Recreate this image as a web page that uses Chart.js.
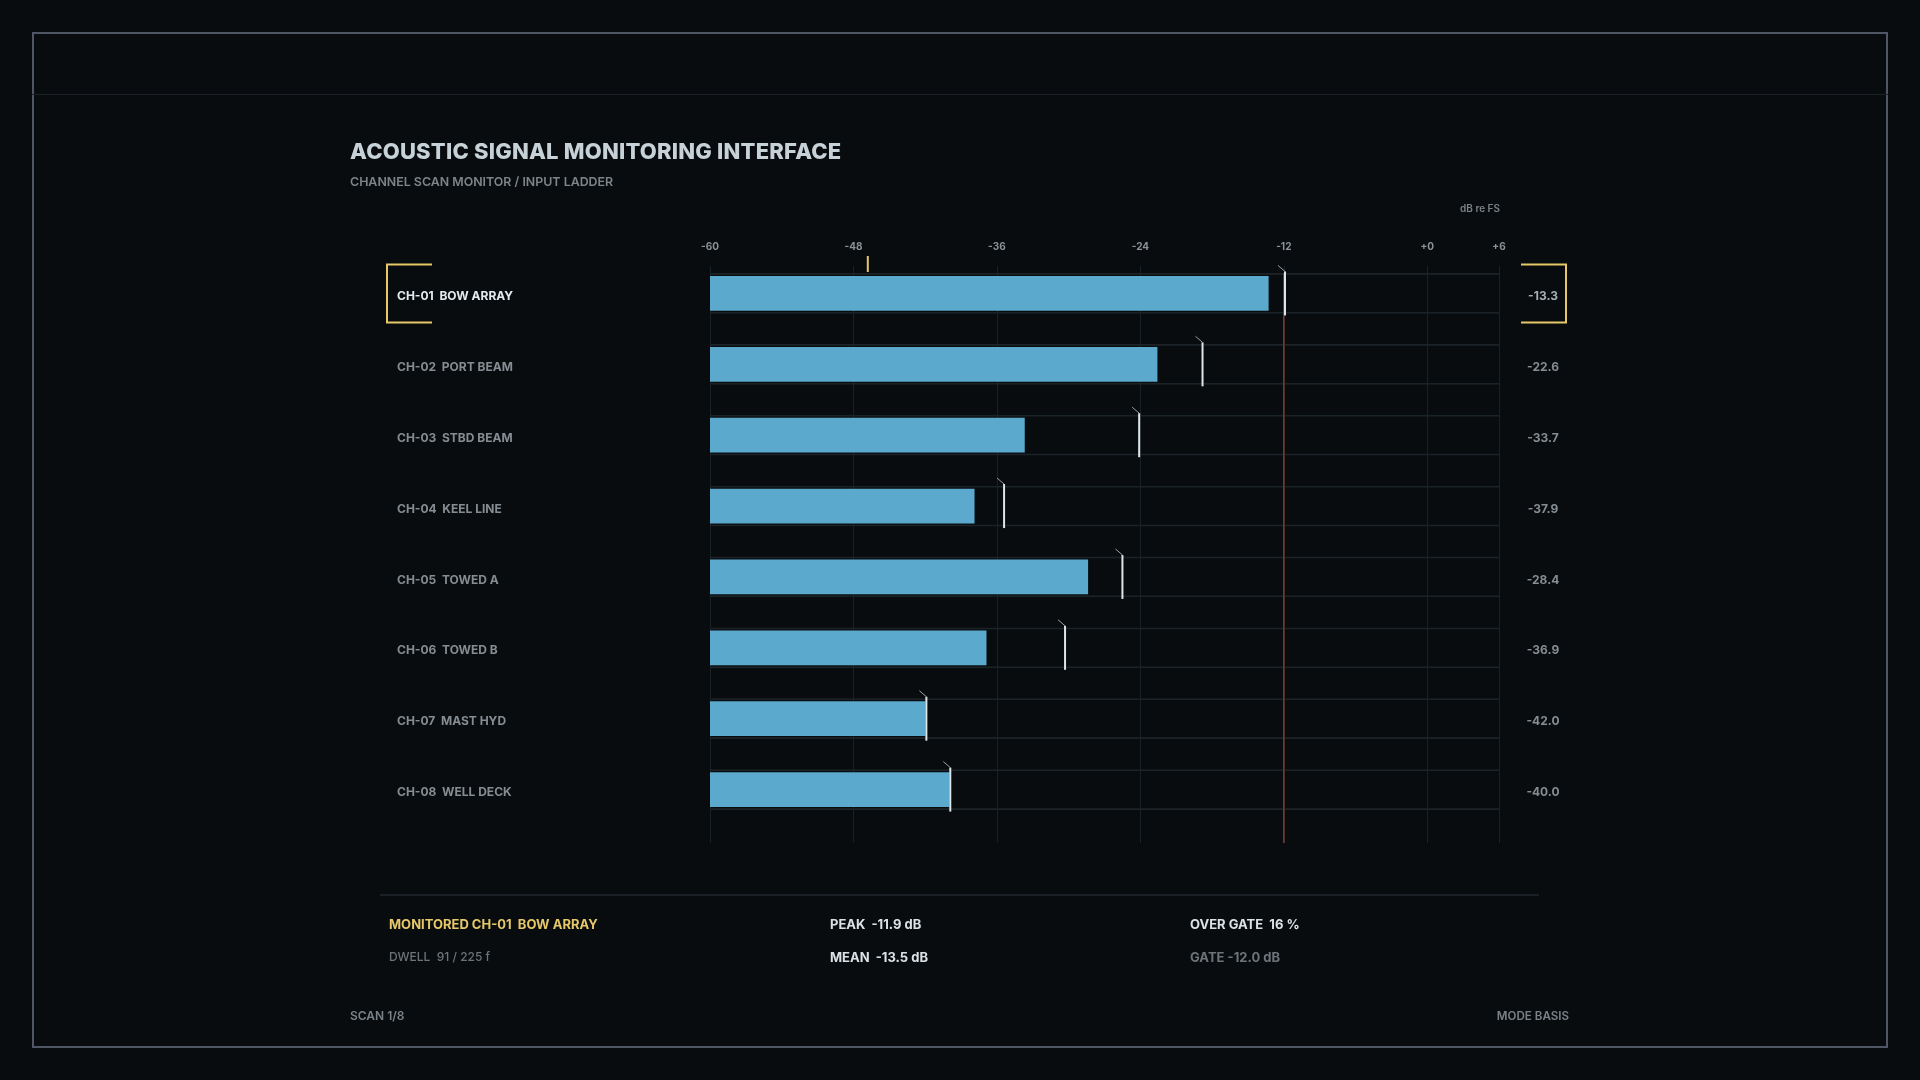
<!DOCTYPE html>
<html>
<head>
<meta charset="utf-8">
<title>Acoustic Signal Monitoring Interface</title>
<script src="https://cdn.jsdelivr.net/npm/chart.js@4"></script>
<style>
  html, body { margin: 0; padding: 0; background: #080c0f; }
  body { width: 1920px; height: 1080px; position: relative; overflow: hidden; font-family: Inter, Roboto, "DejaVu Sans", sans-serif; }
  #frame { position: absolute; left: 32px; top: 32px; width: 1852px; height: 1012px; border: 2px solid #4f5664; }
  #headline { position: absolute; left: 32px; top: 94px; width: 1856px; height: 1px; background: #1b2126; }
  canvas { position: absolute; left: 0; top: 0; }
  .t { position: absolute; white-space: pre; line-height: 20px; height: 20px; }
  #title { left: 350px; top: 141px; font-size: 22px; font-weight: 800; color: #c7d2d8; letter-spacing: 0.2px; }
  #sub { left: 350px; top: 172px; font-size: 12.4px; font-weight: 600; color: #7d858b; }
  #sep { position: absolute; left: 380px; top: 894px; width: 1159px; height: 2px; background: #1a2025; }
  .s { font-size: 13px; font-weight: 700; }
  .y { color: #e6c868; }
  .w { color: #dbe2e6; }
  .g { color: #6d7479; }
  .f { font-size: 12px; font-weight: 600; color: #7b8288; }
</style>
</head>
<body>
<div id="frame"></div>
<div id="headline"></div>
<canvas id="meter" width="1920" height="1080"></canvas>
<div class="t" id="title">ACOUSTIC SIGNAL MONITORING INTERFACE</div>
<div class="t" id="sub">CHANNEL SCAN MONITOR / INPUT LADDER</div>
<div id="sep"></div>
<div class="t s y" id="mon" style="left:389px;top:914px"></div>
<div class="t s g" id="dwell" style="left:389px;top:947px;font-weight:500;font-size:12px"></div>
<div class="t s w" id="peak" style="left:830px;top:914px"></div>
<div class="t s w" id="mean" style="left:830px;top:947px"></div>
<div class="t s w" id="over" style="left:1190px;top:914px"></div>
<div class="t s g" id="gate" style="left:1190px;top:947px"></div>
<div class="t f" id="scan" style="left:350px;top:1006px"></div>
<div class="t f" style="right:351px;top:1006px;font-size:11.6px">MODE BASIS</div>
<script>
  // channel ladder data
  const CHANNELS = ["CH-01", "CH-02", "CH-03", "CH-04", "CH-05", "CH-06", "CH-07", "CH-08"];
  const NAMES = ["BOW ARRAY", "PORT BEAM", "STBD BEAM", "KEEL LINE", "TOWED A", "TOWED B", "MAST HYD", "WELL DECK"];
  const LEVELS = [-13.3, -22.6, -33.7, -37.9, -28.4, -36.9, -42.0, -40.0];
  const PEAKS = [-11.9, -18.8, -24.1, -35.4, -25.5, -30.3, -41.9, -39.9];
  const X_TICKS = [-60, -48, -36, -24, -12, 0, 6];
  const X_MIN = -60;
  const X_MAX = 6;
  const GATE = -12.0;
  const CURSOR = -46.8;
  const SELECTED = 0;
  const MEAN = -13.5;
  const OVER_GATE = 16;
  const DWELL = [91, 225];

  const FONT = "Inter, Roboto, 'DejaVu Sans', sans-serif";
  const YELLOW = "#e6c868";

  document.getElementById("mon").textContent = "MONITORED " + CHANNELS[SELECTED] + "  " + NAMES[SELECTED];
  document.getElementById("dwell").textContent = "DWELL  " + DWELL[0] + " / " + DWELL[1] + " f";
  document.getElementById("peak").textContent = "PEAK  " + PEAKS[SELECTED].toFixed(1) + " dB";
  document.getElementById("mean").textContent = "MEAN  " + MEAN.toFixed(1) + " dB";
  document.getElementById("over").textContent = "OVER GATE  " + OVER_GATE + " %";
  document.getElementById("gate").textContent = "GATE " + GATE.toFixed(1) + " dB";
  document.getElementById("scan").textContent = "SCAN " + (SELECTED + 1) + "/" + CHANNELS.length;

  function fmt(v) {
    return v > 0 || v === 0 ? "+" + v : String(v);
  }

  // grid, axis labels, gate line, peak ticks, row labels
  const ladder = {
    id: "ladder",
    beforeDatasetsDraw(chart) {
      const { ctx, chartArea: a, scales: { x } } = chart;
      ctx.save();
      ctx.lineWidth = 1;
      ctx.strokeStyle = "#1a2126";
      X_TICKS.forEach(t => {
        const px = Math.round(x.getPixelForValue(t)) + 0.5;
        ctx.beginPath();
        ctx.moveTo(px, a.top + 8);
        ctx.lineTo(px, a.bottom + 18);
        ctx.stroke();
      });
      ctx.fillStyle = "#8b9298";
      ctx.font = "700 10px " + FONT;
      ctx.textAlign = "center";
      ctx.textBaseline = "middle";
      X_TICKS.forEach(t => ctx.fillText(fmt(t), x.getPixelForValue(t), a.top - 11));
      ctx.textAlign = "right";
      ctx.font = "600 10px " + FONT;
      ctx.fillStyle = "#7b8287";
      ctx.fillText("dB re FS", a.right + 1, a.top - 49);
      ctx.restore();
    },
    afterDatasetsDraw(chart) {
      const { ctx, chartArea: a, scales: { x, y } } = chart;
      ctx.save();
      // gate line
      const gx = x.getPixelForValue(GATE);
      ctx.strokeStyle = "#7e3b2c";
      ctx.lineWidth = 1.5;
      ctx.beginPath();
      ctx.moveTo(gx, a.top + 15);
      ctx.lineTo(gx, a.bottom + 18);
      ctx.stroke();
      // scan cursor
      const cx = x.getPixelForValue(CURSOR);
      ctx.strokeStyle = YELLOW;
      ctx.lineWidth = 2;
      ctx.beginPath();
      ctx.moveTo(cx, a.top - 2);
      ctx.lineTo(cx, a.top + 14);
      ctx.stroke();
      // peak hold markers
      PEAKS.forEach((p, i) => {
        const px = x.getPixelForValue(p);
        const cy = y.getPixelForValue(i);
        ctx.strokeStyle = "#dfe6ea";
        ctx.lineWidth = 2;
        ctx.beginPath();
        ctx.moveTo(px, cy - 22);
        ctx.lineTo(px, cy + 22);
        ctx.stroke();
        ctx.strokeStyle = "#9aa2a8";
        ctx.lineWidth = 1;
        ctx.beginPath();
        ctx.moveTo(px, cy - 22);
        ctx.lineTo(px - 7, cy - 28);
        ctx.stroke();
      });
      // row labels and readouts
      ctx.textBaseline = "middle";
      ctx.font = "700 12px " + FONT;
      CHANNELS.forEach((c, i) => {
        const cy = y.getPixelForValue(i) + 3;
        const sel = i === SELECTED;
        ctx.fillStyle = sel ? "#e4eaee" : "#858c92";
        ctx.textAlign = "left";
        ctx.fillText(c + "  " + NAMES[i], 397, cy);
        ctx.fillStyle = sel ? "#a7afb5" : "#858c92";
        ctx.textAlign = "center";
        ctx.fillText(LEVELS[i].toFixed(1), a.right + 44, cy);
      });
      // selection brackets
      const sy = y.getPixelForValue(SELECTED);
      ctx.strokeStyle = YELLOW;
      ctx.lineWidth = 2;
      ctx.beginPath();
      ctx.moveTo(432, sy - 29);
      ctx.lineTo(387, sy - 29);
      ctx.lineTo(387, sy + 29);
      ctx.lineTo(432, sy + 29);
      ctx.moveTo(a.right + 22, sy - 29);
      ctx.lineTo(a.right + 67, sy - 29);
      ctx.lineTo(a.right + 67, sy + 29);
      ctx.lineTo(a.right + 22, sy + 29);
      ctx.stroke();
      ctx.restore();
    }
  };

  const ctx = document.getElementById("meter").getContext("2d");
  const meter = new Chart(ctx, {
    type: "bar",
    data: {
      labels: CHANNELS,
      datasets: [
        {
          label: "Level",
          data: LEVELS,
          base: X_MIN,
          backgroundColor: "#5ba9cd",
          borderWidth: 0,
          barThickness: 34,
          grouped: false,
          order: 1
        },
        {
          label: "Track",
          data: CHANNELS.map(() => X_MAX),
          base: X_MIN,
          backgroundColor: "rgba(0,0,0,0)",
          borderColor: "#1c2328",
          borderWidth: { top: 1, bottom: 1, left: 0, right: 0 },
          borderSkipped: false,
          barThickness: 40,
          grouped: false,
          order: 2
        }
      ]
    },
    options: {
      indexAxis: "y",
      responsive: false,
      devicePixelRatio: 1,
      animation: false,
      events: [],
      layout: { padding: { left: 710, right: 421, top: 258, bottom: 255 } },
      scales: {
        x: { type: "linear", min: X_MIN, max: X_MAX, display: false },
        y: { type: "category", display: false, offset: true }
      },
      plugins: {
        legend: { display: false },
        tooltip: { enabled: false }
      }
    },
    plugins: [ladder]
  });
</script>
</body>
</html>
